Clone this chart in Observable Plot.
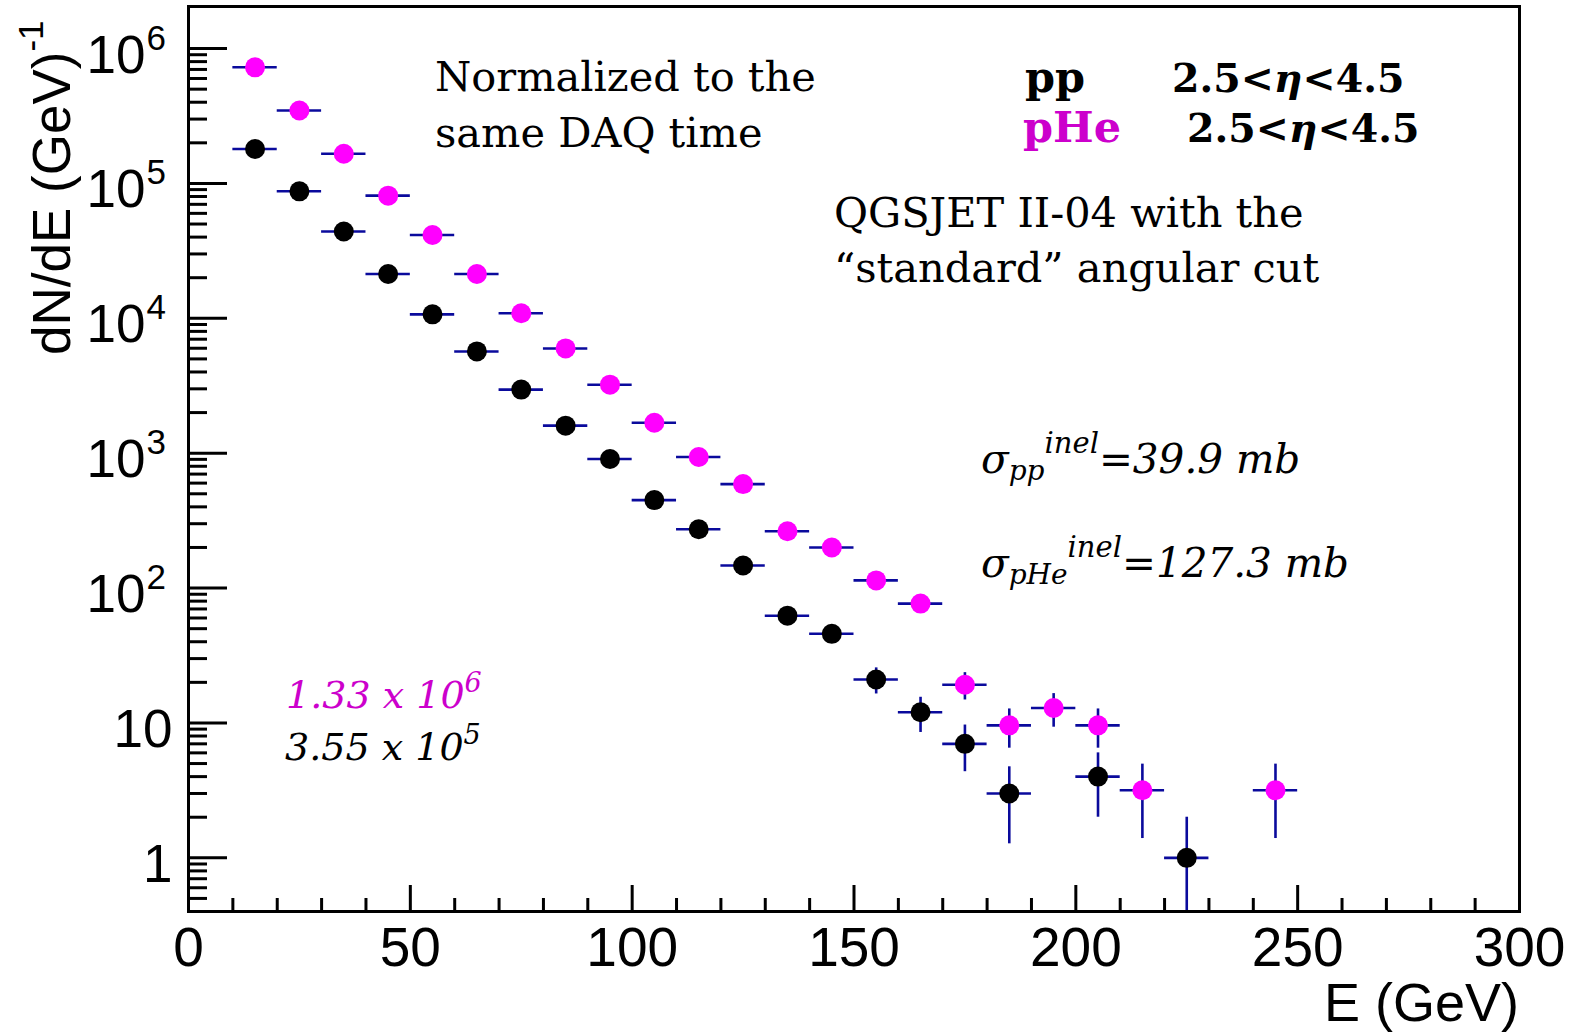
<!DOCTYPE html>
<html><head><meta charset="utf-8">
<script src="https://cdn.jsdelivr.net/npm/d3@7"></script>
<script src="https://cdn.jsdelivr.net/npm/@observablehq/plot@0.6"></script>
<style>body{margin:0;background:#fff}</style>
</head><body><div id="chart"></div>
<script>
// ---- data ----
const ppE   = [15,25,35,45,55,65,75,85,95,105,115,125,135,145,155,165,175,185,205,225];
const ppN   = [1.80e5,8.74e4,4.4e4,2.13e4,1.07e4,5680,2960,1600,906,449,273,147,62.4,45.8,21.0,12.0,7.0,3.0,4.0,1.0];
const ppErr = [424,296,210,146,103,75,54,40,30,21,16.5,12.1,7.9,6.8,4.6,3.5,2.65,1.73,2.0,1.0];

const pheE   = [15,25,35,45,55,65,75,85,95,105,115,125,135,145,155,165,175,185,195,205,215,245];
const pheN   = [7.26e5,3.47e5,1.66e5,8.12e4,4.15e4,2.13e4,1.09e4,5980,3220,1680,937,590,264,200,114,76.7,19.2,9.6,12.9,9.6,3.17,3.17];
const pheErr = [852,589,407,285,204,146,104,77,57,41,30.6,24.3,16.2,14.1,10.7,8.8,4.4,3.1,3.6,3.1,1.78,1.78];

const binHalfWidth = 5;
const xMajor = [0,50,100,150,200,250,300];
const xMinor = [10,20,30,40,60,70,80,90,110,120,130,140,160,170,180,190,210,220,230,240,260,270,280,290];
const yPlainTicks = [1,10];
const yExpTicks = [1e2,1e3,1e4,1e5,1e6];
const yMinor = [0.5,0.6,0.7,0.8,0.9];
for (let k = 0; k <= 5; k++) for (let m = 2; m <= 9; m++) yMinor.push(m * Math.pow(10, k));

const yMin = 0.4, yMax = 2.05e6;
const rows = (E, N, Err, series) => E.map((e, i) => ({
  series, e, n: N[i], lo: Math.max(N[i] - Err[i], yMin), hi: N[i] + Err[i],
  x1: e - binHalfWidth, x2: e + binHalfWidth
}));
const pp = rows(ppE, ppN, ppErr, "pp");
const phe = rows(pheE, pheN, pheErr, "pHe");

const errColor = "#0a0a9c";
const sans = "Liberation Sans, Arial, Helvetica, sans-serif";
const serif = "DejaVu Serif, serif";

const chart = Plot.plot({
  width: 1576, height: 1035,
  marginLeft: 188, marginRight: 57, marginTop: 6, marginBottom: 124,
  style: {fontFamily: sans, background: "white", color: "black"},
  x: {domain: [0, 300]},
  y: {type: "log", domain: [yMin, yMax]},
  marks: [
    // inward ticks
    Plot.axisY({ticks: [...yPlainTicks, ...yExpTicks], tickSize: 39, dx: 39, tickFormat: () => "", label: null, strokeWidth: 3}),
    Plot.axisY({ticks: yMinor, tickSize: 19, dx: 19, tickFormat: () => "", label: null, strokeWidth: 3}),
    Plot.axisX({ticks: xMajor, tickSize: 26, dy: -26, tickFormat: () => "", label: null, strokeWidth: 3}),
    Plot.axisX({ticks: xMinor, tickSize: 13, dy: -13, tickFormat: () => "", label: null, strokeWidth: 3}),
    // tick labels
    Plot.text(xMajor, {x: d => d, text: d => String(d), frameAnchor: "bottom", lineAnchor: "bottom", dy: 54, fontSize: 55, fontFamily: sans}),
    Plot.text(yPlainTicks, {y: d => d, text: d => String(d), frameAnchor: "left", textAnchor: "end", lineAnchor: "bottom", dx: -16, dy: 24, fontSize: 53, fontFamily: sans}),
    Plot.text(yExpTicks, {y: d => d, text: () => "10", frameAnchor: "left", textAnchor: "end", lineAnchor: "bottom", dx: -43, dy: 24, fontSize: 53, fontFamily: sans}),
    Plot.text(yExpTicks, {y: d => d, text: d => String(Math.round(Math.log10(d))), frameAnchor: "left", textAnchor: "start", lineAnchor: "bottom", dx: -42, dy: 1, fontSize: 35, fontFamily: sans}),
    // error bars
    Plot.ruleY([...phe, ...pp], {y: "n", x1: "x1", x2: "x2", stroke: errColor, strokeWidth: 2.6}),
    Plot.ruleX([...phe, ...pp], {x: "e", y1: "lo", y2: "hi", stroke: errColor, strokeWidth: 2.6, clip: true}),
    // markers
    Plot.dot(phe, {x: "e", y: "n", r: 10, fill: "#ff00ff", stroke: null}),
    Plot.dot(pp, {x: "e", y: "n", r: 10, fill: "black", stroke: null}),
    Plot.frame({stroke: "black", strokeWidth: 3})
  ]
});
document.getElementById("chart").appendChild(chart);

// ---- rich-text annotations ----
const svg = d3.select(chart);
function rich(x, y, parts, base) {
  const t = svg.append("text").attr("x", x).attr("y", y)
    .attr("font-family", base.family).attr("font-size", base.size)
    .attr("fill", base.fill || "black")
    .attr("text-anchor", base.anchor || "start");
  if (base.weight) t.attr("font-weight", base.weight);
  if (base.style) t.attr("font-style", base.style);
  if (base.transform) t.attr("transform", base.transform).attr("x", 0).attr("y", 0);
  for (const p of parts) {
    const s = t.append("tspan").text(p.t);
    if (p.size) s.attr("font-size", p.size);
    if (p.dy) s.attr("dy", p.dy);
    if (p.style) s.attr("font-style", p.style);
    if (p.fill) s.attr("fill", p.fill);
    if (p.dx) s.attr("dx", p.dx);
  }
  return t;
}
// axis titles
rich(0, 0, [{t: "dN/dE (GeV)"}, {t: "-1", size: 35, dy: -27}], {family: sans, size: 53, transform: "translate(70,355) rotate(-90)"});
rich(1519, 1021, [{t: "E (GeV)"}], {family: sans, size: 54, anchor: "end"});

// notes
rich(435, 91, [{t: "Normalized to the"}], {family: serif, size: 41.5});
rich(435, 147, [{t: "same DAQ time"}], {family: serif, size: 41.5});
rich(834, 227, [{t: "QGSJET II-04 with the"}], {family: serif, size: 41.5});
rich(834, 282, [{t: "\u201Cstandard\u201D angular cut"}], {family: serif, size: 41.5});

rich(1025, 92, [{t: "pp"}], {family: serif, size: 43, weight: "bold"});
rich(1172, 92, [{t: "2.5<"}, {t: "\u03B7", style: "italic"}, {t: "<4.5"}], {family: serif, size: 39.5, weight: "bold"});
rich(1023, 142, [{t: "pHe"}], {family: serif, size: 43, weight: "bold", fill: "#cc00cc"});
rich(1187, 142, [{t: "2.5<"}, {t: "\u03B7", style: "italic"}, {t: "<4.5"}], {family: serif, size: 39.5, weight: "bold"});

rich(981, 473, [{t: "\u03C3"}, {t: "pp", size: 28, dy: 7}, {t: "inel", size: 29, dy: -27}, {t: "=39.9 mb", dy: 20}], {family: serif, size: 40.5, style: "italic"});
rich(981, 577, [{t: "\u03C3"}, {t: "pHe", size: 28, dy: 7}, {t: "inel", size: 29, dy: -27}, {t: "=127.3 mb", dy: 20}], {family: serif, size: 40.5, style: "italic"});

rich(286, 708, [{t: "1.33 x 10"}, {t: "6", size: 27, dy: -16}], {family: serif, size: 38, style: "italic", fill: "#cc00cc"});
rich(285, 760, [{t: "3.55 x 10"}, {t: "5", size: 27, dy: -16}], {family: serif, size: 38, style: "italic"});
</script></body></html>
